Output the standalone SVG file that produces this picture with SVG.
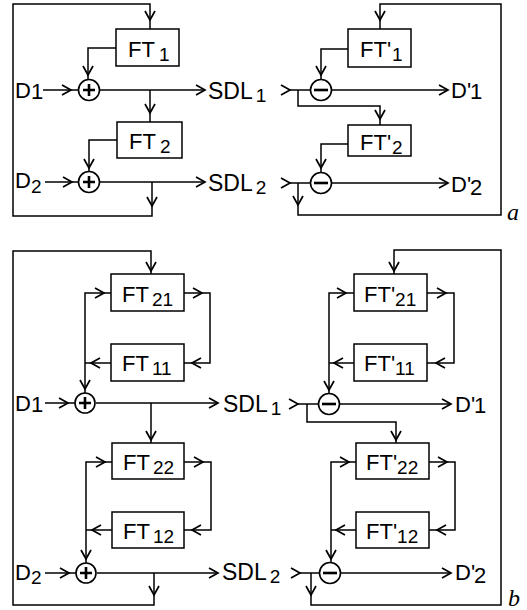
<svg xmlns="http://www.w3.org/2000/svg" xmlns:xlink="http://www.w3.org/1999/xlink" width="527" height="610" viewBox="0 0 527 610">
<style>
.ln{fill:none;stroke:#000;stroke-width:1.5}
.bx{fill:#fff;stroke:#000;stroke-width:1.5}
.cr{fill:#fff;stroke:#000;stroke-width:1.6}
.op{stroke:#000;stroke-width:2.6}
.t{font-family:"Liberation Sans",Arial,sans-serif;font-size:22px;fill:#000}
.big{font-size:23px}
.s{font-size:19px}
.it{font-family:"Liberation Serif","Times New Roman",serif;font-style:italic;font-size:24px;fill:#000}
</style>
<defs>
<path id="ch" d="M-9,-5 L0,0 L-9,5" fill="none" stroke="#000" stroke-width="1.7"/>
</defs>
<rect width="527" height="610" fill="#fff"/>

<g id="connectors">
<!-- panel a left -->
<path class="ln" d="M152,182 V216 H13 V4 H150 V29"/>
<use href="#ch" transform="translate(150,20) rotate(90)"/>
<use href="#ch" transform="translate(152,206) rotate(90)"/>
<path class="ln" d="M116,48 H88 V79"/>
<use href="#ch" transform="translate(88,75) rotate(90)"/>
<path class="ln" d="M43,90 H78"/>
<use href="#ch" transform="translate(71,90)"/>
<path class="ln" d="M100,90 H205"/>
<use href="#ch" transform="translate(205,90)"/>
<path class="ln" d="M150,90 V122"/>
<use href="#ch" transform="translate(150,113) rotate(90)"/>
<path class="ln" d="M117,140 H89 V171"/>
<use href="#ch" transform="translate(89,168) rotate(90)"/>
<path class="ln" d="M45,182 H78"/>
<use href="#ch" transform="translate(72,182)"/>
<path class="ln" d="M100,182 H205"/>
<use href="#ch" transform="translate(205,182)"/>
<!-- panel a right -->
<path class="ln" d="M298,183 V215 H501 V4 H380 V29"/>
<use href="#ch" transform="translate(380,20) rotate(90)"/>
<use href="#ch" transform="translate(298,205) rotate(90)"/>
<path class="ln" d="M348,49 H321 V79"/>
<use href="#ch" transform="translate(321,75) rotate(90)"/>
<path class="ln" d="M290,90 H310"/>
<use href="#ch" transform="translate(290,90)"/>
<path class="ln" d="M298,90 V106 H380 V125"/>
<use href="#ch" transform="translate(380,119) rotate(90)"/>
<path class="ln" d="M332,90 H448"/>
<use href="#ch" transform="translate(448,90)"/>
<path class="ln" d="M348,144 H321 V172"/>
<use href="#ch" transform="translate(321,168) rotate(90)"/>
<path class="ln" d="M290,183 H310"/>
<use href="#ch" transform="translate(290,183)"/>
<path class="ln" d="M332,183 H448"/>
<use href="#ch" transform="translate(448,183)"/>

<!-- panel b left -->
<path class="ln" d="M154,573 V605 H13 V251 H151 V274"/>
<use href="#ch" transform="translate(151,271) rotate(90)"/>
<use href="#ch" transform="translate(154,595) rotate(90)"/>
<path class="ln" d="M111,293 H85 V393"/>
<use href="#ch" transform="translate(104,293)"/>
<use href="#ch" transform="translate(85,389) rotate(90)"/>
<path class="ln" d="M184,293 H210 V363 H184"/>
<use href="#ch" transform="translate(202,293)"/>
<use href="#ch" transform="translate(192,363) rotate(180)"/>
<path class="ln" d="M111,363 H85"/>
<use href="#ch" transform="translate(91,363) rotate(180)"/>
<path class="ln" d="M45,403 H75"/>
<use href="#ch" transform="translate(68,403)"/>
<path class="ln" d="M96,403 H218"/>
<use href="#ch" transform="translate(218,403)"/>
<path class="ln" d="M151,403 V443"/>
<use href="#ch" transform="translate(151,440) rotate(90)"/>
<path class="ln" d="M112,462 H86 V563"/>
<use href="#ch" transform="translate(105,462)"/>
<use href="#ch" transform="translate(86,559) rotate(90)"/>
<path class="ln" d="M184,462 H211 V530 H184"/>
<use href="#ch" transform="translate(203,462)"/>
<use href="#ch" transform="translate(192,530) rotate(180)"/>
<path class="ln" d="M112,530 H86"/>
<use href="#ch" transform="translate(92,530) rotate(180)"/>
<path class="ln" d="M45,573 H76"/>
<use href="#ch" transform="translate(69,573)"/>
<path class="ln" d="M97,573 H218"/>
<use href="#ch" transform="translate(218,573)"/>

<!-- panel b right -->
<path class="ln" d="M311,573 V605 H501 V250 H394 V274"/>
<use href="#ch" transform="translate(394,271) rotate(90)"/>
<use href="#ch" transform="translate(311,595) rotate(90)"/>
<path class="ln" d="M354,293 H329 V394"/>
<use href="#ch" transform="translate(346,293)"/>
<use href="#ch" transform="translate(329,390) rotate(90)"/>
<path class="ln" d="M427,293 H454 V363 H427"/>
<use href="#ch" transform="translate(446,293)"/>
<use href="#ch" transform="translate(436,363) rotate(180)"/>
<path class="ln" d="M354,363 H329"/>
<use href="#ch" transform="translate(334,363) rotate(180)"/>
<path class="ln" d="M298,404 H318"/>
<use href="#ch" transform="translate(298,404)"/>
<path class="ln" d="M307,404 V422 H396 V443"/>
<use href="#ch" transform="translate(396,440) rotate(90)"/>
<path class="ln" d="M340,404 H451"/>
<use href="#ch" transform="translate(451,404)"/>
<path class="ln" d="M356,462 H331 V563"/>
<use href="#ch" transform="translate(349,462)"/>
<use href="#ch" transform="translate(331,559) rotate(90)"/>
<path class="ln" d="M429,462 H455 V530 H429"/>
<use href="#ch" transform="translate(447,462)"/>
<use href="#ch" transform="translate(437,530) rotate(180)"/>
<path class="ln" d="M356,530 H331"/>
<use href="#ch" transform="translate(336,530) rotate(180)"/>
<path class="ln" d="M300,573 H320"/>
<use href="#ch" transform="translate(300,573)"/>
<path class="ln" d="M341,573 H451"/>
<use href="#ch" transform="translate(451,573)"/>
</g>

<!-- panel a nodes -->
<g id="a_FT1"><rect class="bx" x="116" y="29" width="63" height="37"/><text class="t" x="128" y="57">FT<tspan class="s" dx="4" dy="4">1</tspan></text></g>
<g id="a_FT2"><rect class="bx" x="117" y="122" width="65" height="36"/><text class="t" x="129" y="149">FT<tspan class="s" dx="4" dy="4">2</tspan></text></g>
<g id="a_FTp1"><rect class="bx" x="348" y="29" width="63" height="38"/><text class="t" x="360" y="57">FT'<tspan class="s" dx="1" dy="4">1</tspan></text></g>
<g id="a_FTp2"><rect class="bx" x="348" y="125" width="63" height="31"/><text class="t" x="360" y="150">FT'<tspan class="s" dx="1" dy="4">2</tspan></text></g>
<g id="a_sum1"><circle class="cr" cx="89" cy="90" r="10.5"/><path class="op" d="M83,90 H95 M89,84 V96"/></g>
<g id="a_sum2"><circle class="cr" cx="89" cy="182" r="10.5"/><path class="op" d="M83,182 H95 M89,176 V188"/></g>
<g id="a_sub1"><circle class="cr" cx="321" cy="90" r="10.5"/><path class="op" d="M314,90 H328" stroke-width="3"/></g>
<g id="a_sub2"><circle class="cr" cx="321" cy="183" r="10.5"/><path class="op" d="M314,183 H328" stroke-width="3"/></g>
<g id="a_D1"><text class="t" x="15" y="98">D<tspan dy="1">1</tspan></text></g>
<g id="a_D2"><text class="t" x="15" y="188">D<tspan class="s" dy="5">2</tspan></text></g>
<g id="a_SDL1"><text class="t big" x="208" y="99">SDL<tspan class="s" dx="3" dy="3">1</tspan></text></g>
<g id="a_SDL2"><text class="t big" x="208" y="191">SDL<tspan class="s" dx="3" dy="3">2</tspan></text></g>
<g id="a_Dp1"><text class="t" x="451" y="98">D'<tspan dx="-1" dy="1">1</tspan></text></g>
<g id="a_Dp2"><text class="t" x="451" y="192">D'<tspan dx="-1" dy="3">2</tspan></text></g>
<text class="it" x="507" y="220">a</text>

<!-- panel b nodes -->
<g id="b_FT21"><rect class="bx" x="111" y="274" width="73" height="37"/><text class="t" x="122" y="302">FT<tspan class="s" dx="3" dy="4">21</tspan></text></g>
<g id="b_FT11"><rect class="bx" x="111" y="344" width="73" height="37"/><text class="t" x="122" y="371">FT<tspan class="s" dx="3" dy="4">11</tspan></text></g>
<g id="b_FT22"><rect class="bx" x="112" y="443" width="72" height="36"/><text class="t" x="123" y="470">FT<tspan class="s" dx="3" dy="4">22</tspan></text></g>
<g id="b_FT12"><rect class="bx" x="112" y="512" width="72" height="36"/><text class="t" x="123" y="539">FT<tspan class="s" dx="3" dy="4">12</tspan></text></g>
<g id="b_FTp21"><rect class="bx" x="354" y="274" width="73" height="37"/><text class="t" x="364" y="302">FT'<tspan class="s" dx="0" dy="4">21</tspan></text></g>
<g id="b_FTp11"><rect class="bx" x="354" y="344" width="73" height="37"/><text class="t" x="364" y="371">FT'<tspan class="s" dx="0" dy="4">11</tspan></text></g>
<g id="b_FTp22"><rect class="bx" x="356" y="443" width="73" height="36"/><text class="t" x="366" y="470">FT'<tspan class="s" dx="0" dy="4">22</tspan></text></g>
<g id="b_FTp12"><rect class="bx" x="356" y="512" width="73" height="36"/><text class="t" x="366" y="539">FT'<tspan class="s" dx="0" dy="4">12</tspan></text></g>
<g id="b_sum1"><circle class="cr" cx="85" cy="403" r="10"/><path class="op" d="M79,403 H91 M85,397 V409"/></g>
<g id="b_sum2"><circle class="cr" cx="86" cy="573" r="10"/><path class="op" d="M80,573 H92 M86,567 V579"/></g>
<g id="b_sub1"><circle class="cr" cx="329" cy="404" r="10.5"/><path class="op" d="M322,404 H336" stroke-width="3"/></g>
<g id="b_sub2"><circle class="cr" cx="330" cy="573" r="10.5"/><path class="op" d="M323,573 H337" stroke-width="3"/></g>
<g id="b_D1"><text class="t" x="15" y="411">D<tspan dy="1">1</tspan></text></g>
<g id="b_D2"><text class="t" x="15" y="580">D<tspan class="s" dy="4">2</tspan></text></g>
<g id="b_SDL1"><text class="t big" x="223" y="412">SDL<tspan class="s" dx="3" dy="3">1</tspan></text></g>
<g id="b_SDL2"><text class="t big" x="222" y="580">SDL<tspan class="s" dx="3" dy="3">2</tspan></text></g>
<g id="b_Dp1"><text class="t" x="455" y="412">D'<tspan dx="-1" dy="1">1</tspan></text></g>
<g id="b_Dp2"><text class="t" x="455" y="580">D'<tspan dx="-1" dy="3">2</tspan></text></g>
<text class="it" x="508" y="606">b</text>
</svg>
